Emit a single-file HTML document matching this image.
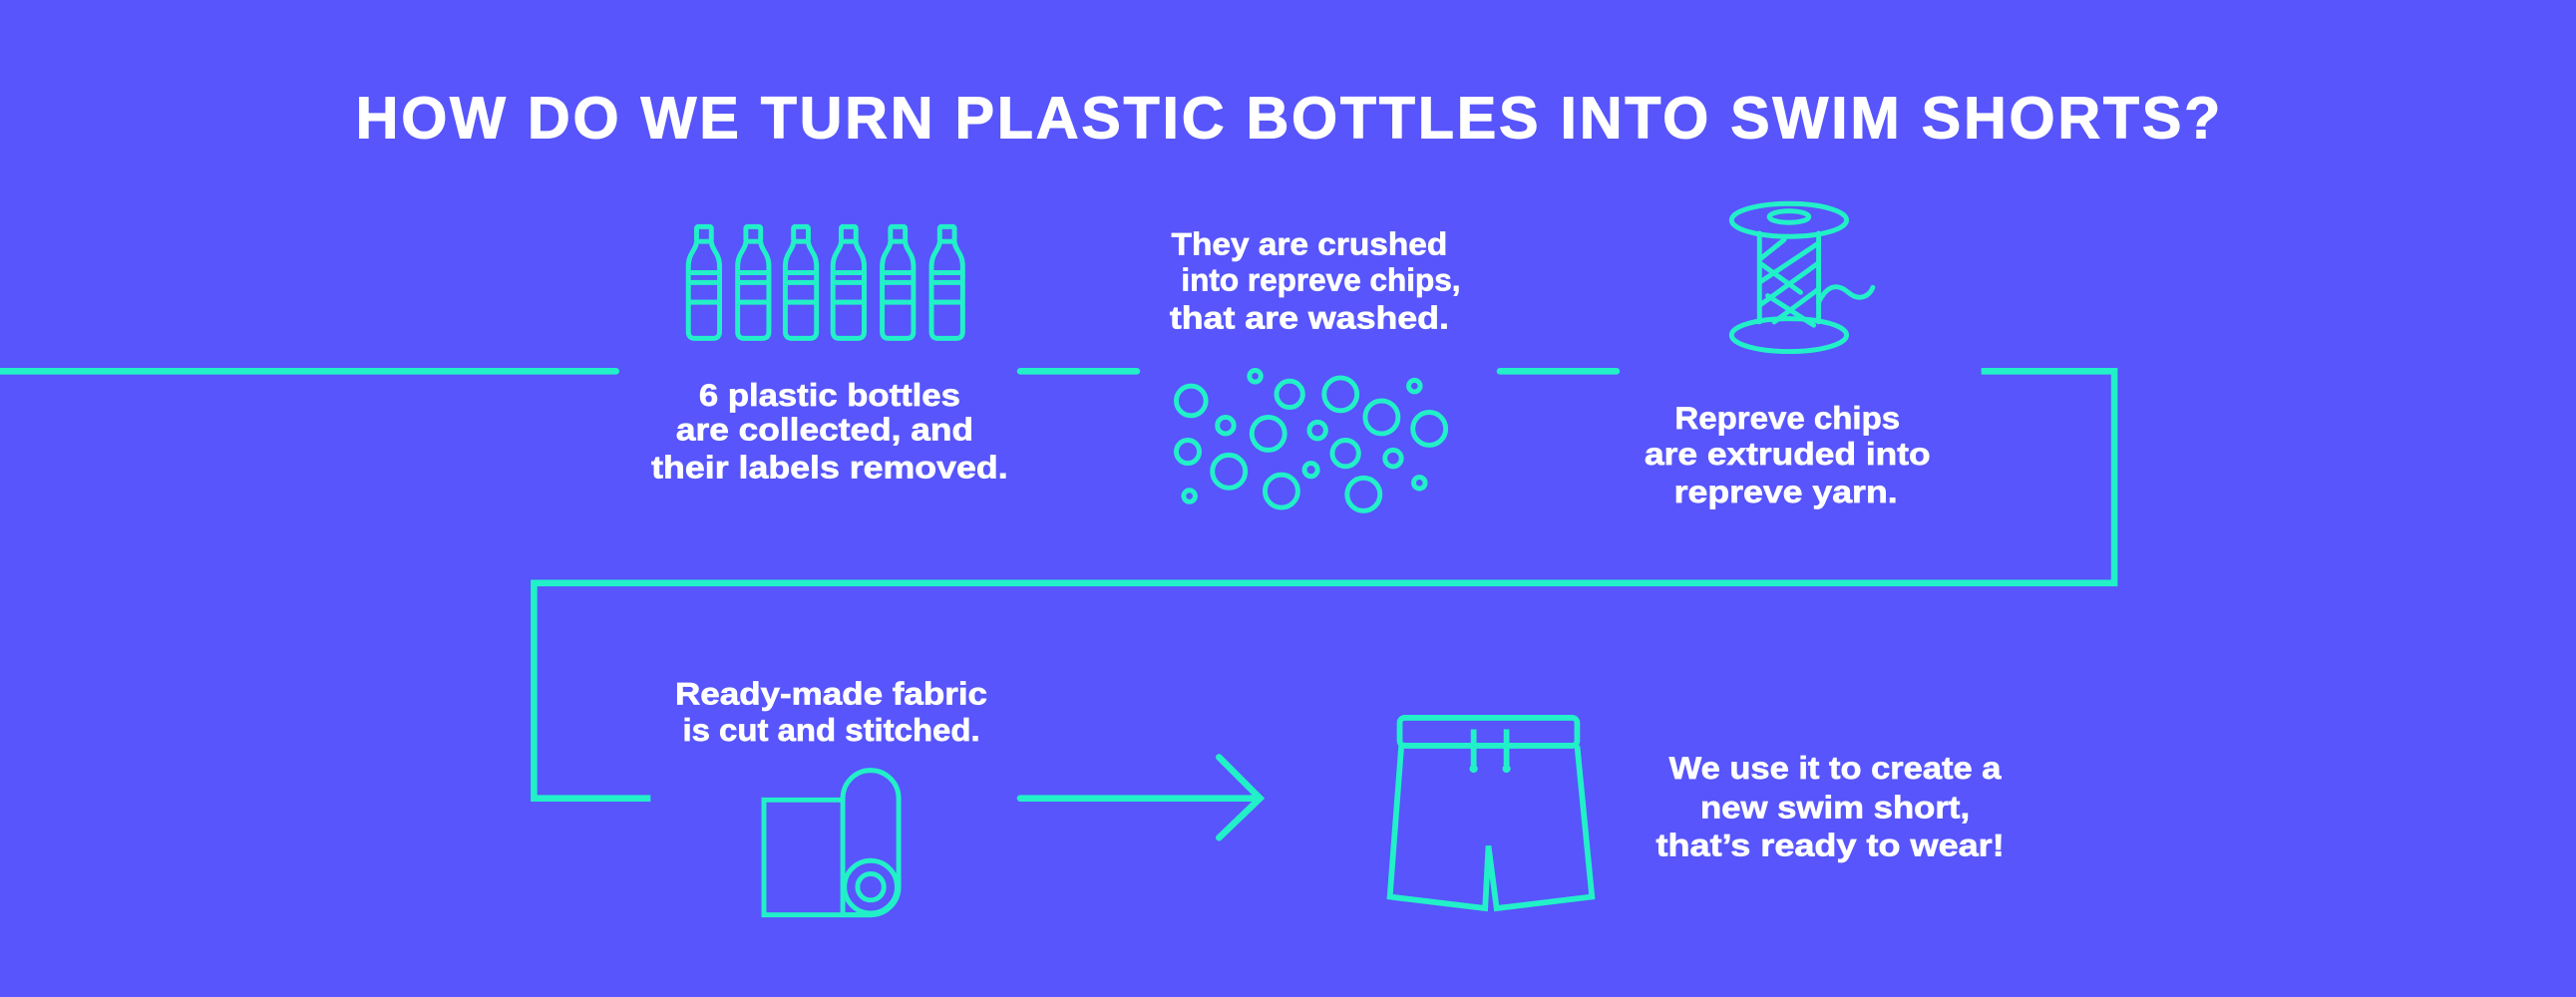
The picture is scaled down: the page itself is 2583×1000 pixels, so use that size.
<!DOCTYPE html>
<html><head><meta charset="utf-8"><style>
html,body{margin:0;padding:0;background:#5755fb;}
svg{display:block}
text{font-family:"Liberation Sans",sans-serif;font-weight:bold;fill:#fff;}
</style></head><body>
<svg width="2583" height="1000" viewBox="0 0 1568 607" preserveAspectRatio="none" xmlns="http://www.w3.org/2000/svg">
<rect width="1568" height="607" fill="#5755fb"/>
<text x="784" y="84" text-anchor="middle" font-size="36" textLength="1135" lengthAdjust="spacing" stroke="#fff" stroke-width="0.6">HOW DO WE TURN PLASTIC BOTTLES INTO SWIM SHORTS?</text>
<g stroke="#22f0c8" stroke-width="4" fill="none" stroke-linecap="round">
<line x1="-2" y1="226" x2="375" y2="226"/>
<line x1="621" y1="226" x2="692" y2="226"/>
<line x1="913" y1="226" x2="984" y2="226"/>
<polyline points="1206,226 1287,226 1287,355 325,355 325,486 396,486" stroke-linecap="butt" stroke-linejoin="miter"/>
<line x1="621" y1="486" x2="766" y2="486"/>
<polyline points="742,461 767,486 742,510"/>
</g>
<!-- bottles -->
<g stroke="#22f0c8" stroke-width="3" fill="none">
<g id="b"><rect x="424" y="138" width="9" height="9" rx="1"/><path d="M424,147 C424,152 419,154 419,162 L419,202 Q419,206 423,206 L434,206 Q438,206 438,202 L438,162 C438,154 433,152 433,147"/><line x1="419" y1="166" x2="438" y2="166"/><line x1="419" y1="172" x2="438" y2="172"/><line x1="419" y1="184" x2="438" y2="184"/></g>
<use href="#b" x="30"/><use href="#b" x="59"/><use href="#b" x="88"/><use href="#b" x="118"/><use href="#b" x="148"/>
</g>
<!-- bubbles -->
<g stroke="#22f0c8" stroke-width="3" fill="none">
<circle cx="725" cy="244" r="9"/><circle cx="764" cy="229" r="3.5"/><circle cx="785" cy="240" r="8"/><circle cx="816" cy="240" r="10"/><circle cx="841" cy="254" r="10"/><circle cx="861" cy="235" r="3.5"/><circle cx="870" cy="261" r="10"/><circle cx="746" cy="259" r="5"/><circle cx="772" cy="264" r="10"/><circle cx="802" cy="262" r="5"/><circle cx="723" cy="275" r="7"/><circle cx="819" cy="276" r="8"/><circle cx="848" cy="279" r="5"/><circle cx="748" cy="287" r="10"/><circle cx="798" cy="286" r="4"/><circle cx="780" cy="299" r="10"/><circle cx="830" cy="301" r="10"/><circle cx="864" cy="294" r="3.5"/><circle cx="724" cy="302" r="3.5"/>
</g>
<!-- spool -->
<g stroke="#22f0c8" stroke-width="3" fill="none" stroke-linecap="round">
<ellipse cx="1089" cy="134" rx="35" ry="10"/><ellipse cx="1089" cy="132" rx="12" ry="3.5"/>
<ellipse cx="1089" cy="204" rx="35" ry="10"/>
<line x1="1071" y1="142" x2="1071" y2="196"/><line x1="1107" y1="142" x2="1107" y2="196"/>
<line x1="1071" y1="158" x2="1086" y2="146"/><line x1="1071" y1="172" x2="1107" y2="148"/><line x1="1071" y1="186" x2="1107" y2="160"/>
<line x1="1071" y1="160" x2="1096" y2="178"/><line x1="1080" y1="196" x2="1107" y2="176"/><line x1="1076" y1="180" x2="1104" y2="198"/>
<path d="M1107,184 C1112,174 1118,172 1125,178 C1132,184 1138,180 1140,175"/>
</g>
<!-- fabric roll -->
<g stroke="#22f0c8" stroke-width="3" fill="none">
<polyline points="513,487 465,487 465,557 530,557"/>
<path d="M513,486 A17,17 0 0 1 547,486 L547,540 A17,17 0 0 1 530,557 L513,557 Z"/>
<circle cx="530" cy="540" r="16"/><circle cx="530" cy="540" r="8"/>
</g>
<!-- shorts -->
<g stroke="#22f0c8" stroke-width="3.5" fill="none" stroke-linejoin="miter">
<rect x="852" y="437" width="108" height="17" rx="3"/>
<path d="M853,454 L846,546 L904,553 L906,515 L911,553 L969,546 L960,454"/>
<line x1="897" y1="444" x2="897" y2="466"/><line x1="917" y1="444" x2="917" y2="466"/>
</g>
<circle cx="897" cy="468" r="2.5" fill="#22f0c8"/><circle cx="917" cy="468" r="2.5" fill="#22f0c8"/>
<!-- texts -->
<g font-size="19" text-anchor="middle" stroke="#fff" stroke-width="0.4">
<text x="505" y="247" textLength="159" lengthAdjust="spacingAndGlyphs">6 plastic bottles</text>
<text x="502" y="268" textLength="181" lengthAdjust="spacingAndGlyphs">are collected, and</text>
<text x="505" y="291" textLength="217" lengthAdjust="spacingAndGlyphs">their labels removed.</text>
<text x="797" y="155" textLength="168" lengthAdjust="spacingAndGlyphs">They are crushed</text>
<text x="804" y="177" textLength="170" lengthAdjust="spacingAndGlyphs">into repreve chips,</text>
<text x="797" y="200" textLength="170" lengthAdjust="spacingAndGlyphs">that are washed.</text>
<text x="1088" y="261" textLength="137" lengthAdjust="spacingAndGlyphs">Repreve chips</text>
<text x="1088" y="283" textLength="174" lengthAdjust="spacingAndGlyphs">are extruded into</text>
<text x="1087" y="306" textLength="136" lengthAdjust="spacingAndGlyphs">repreve yarn.</text>
<text x="506" y="429" textLength="190" lengthAdjust="spacingAndGlyphs">Ready-made fabric</text>
<text x="506" y="451" textLength="181" lengthAdjust="spacingAndGlyphs">is cut and stitched.</text>
<text x="1117" y="474" textLength="202" lengthAdjust="spacingAndGlyphs">We use it to create a</text>
<text x="1117" y="498" textLength="164" lengthAdjust="spacingAndGlyphs">new swim short,</text>
<text x="1114" y="521" textLength="212" lengthAdjust="spacingAndGlyphs">that’s ready to wear!</text>
</g>
</svg>
</body></html>
